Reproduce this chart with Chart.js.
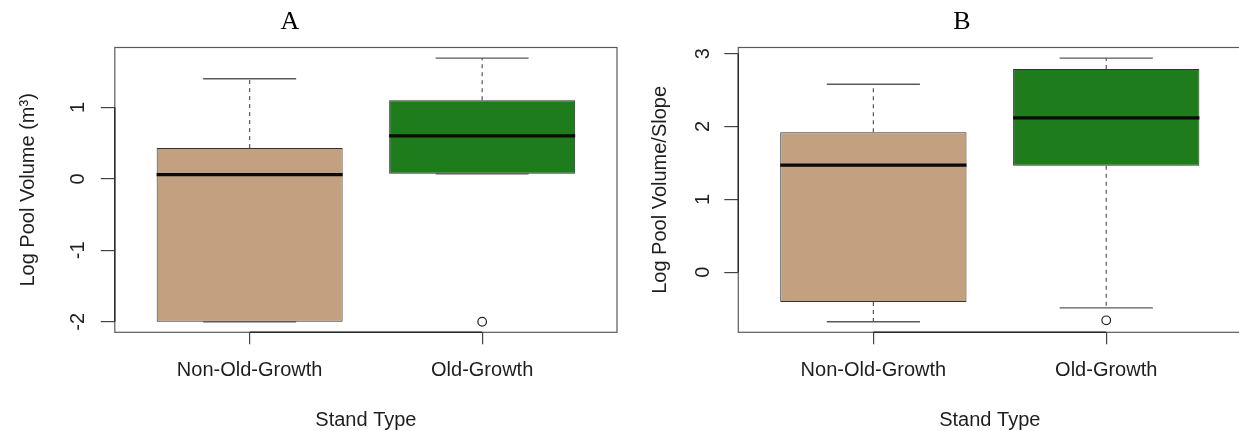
<!DOCTYPE html>
<html>
<head>
<meta charset="utf-8">
<script src="https://cdn.jsdelivr.net/npm/chart.js@4.4.0/dist/chart.umd.min.js"></script>
<style>
  html, body { margin: 0; padding: 0; background: #fff; overflow: hidden; width: 1239px; height: 431px; }
  canvas { position: absolute; top: 0; }
  #chartA { left: 0; }
  #chartB { left: 620px; }
</style>
</head>
<body>
<canvas id="chartA" width="620" height="431"></canvas>
<canvas id="chartB" width="624" height="431"></canvas>
<script>
// Stand types on the x axis
const standTypes = ['Non-Old-Growth', 'Old-Growth'];

// A: log pool volume (m³) five-number summaries per stand type
const volLower  = [-2.00, 0.07];
const volQ1     = [-2.00, 0.07];
const volMedian = [0.06, 0.60];
const volQ3     = [0.43, 1.10];
const volUpper  = [1.40, 1.69];
const volOutliers = [[], [-2.00]];
const volTicks = [-2, -1, 0, 1];

// B: log pool volume / slope
const slopeLower  = [-0.68, -0.49];
const slopeQ1     = [-0.41, 1.46];
const slopeMedian = [1.47, 2.12];
const slopeQ3     = [1.92, 2.79];
const slopeUpper  = [2.58, 2.94];
const slopeOutliers = [[], [-0.66]];
const slopeTicks = [0, 1, 2, 3];

const boxColors = ['#c3a080', '#1f7c1d'];
const SANS = "'Liberation Sans', Arial, sans-serif";
const SERIF = "'Liberation Serif', 'Times New Roman', serif";

// axis range padded by 4% on each side, as in base R plots
function paddedRange(lo, hi) {
  const pad = (hi - lo) * 0.04;
  return [lo - pad, hi + pad];
}

// panel letter above each plot
const panelLetter = {
  id: 'panelLetter',
  afterDraw(chart, args, opts) {
    const ctx = chart.ctx;
    ctx.save();
    ctx.font = opts.size + 'px ' + SERIF;
    ctx.fillStyle = '#000';
    ctx.textAlign = 'center';
    ctx.textBaseline = 'middle';
    ctx.fillText(opts.text, opts.x, opts.y);
    ctx.restore();
  }
};

// frame around the plot region plus axis lines spanning the ticks
const plotFrame = {
  id: 'plotFrame',
  afterDatasetsDraw(chart) {
    const {ctx, chartArea: a, scales} = chart;
    ctx.save();
    ctx.strokeStyle = '#5a5a5a';
    ctx.lineWidth = 1.2;
    ctx.strokeRect(a.left, a.top, a.right - a.left, a.bottom - a.top);
    ctx.strokeStyle = '#2a2a2a';
    ctx.lineWidth = 1.4;
    const xt = scales.x.ticks, yt = scales.y.ticks;
    ctx.beginPath();
    ctx.moveTo(scales.x.getPixelForValue(xt[0].value), a.bottom);
    ctx.lineTo(scales.x.getPixelForValue(xt[xt.length - 1].value), a.bottom);
    ctx.moveTo(a.left, scales.y.getPixelForValue(yt[0].value));
    ctx.lineTo(a.left, scales.y.getPixelForValue(yt[yt.length - 1].value));
    ctx.stroke();
    ctx.restore();
  }
};

function boxplot(canvasId, s) {
  const n = s.categories.length;
  const boxes = [], medians = [], whiskers = [], caps = [], outliers = [];
  s.categories.forEach((c, i) => {
    const x = i + 1;
    boxes.push({x, y: [s.q1[i], s.q3[i]]});
    medians.push({x: x - 0.4, y: s.median[i]}, {x: x + 0.4, y: s.median[i]}, {x, y: null});
    if (s.upper[i] > s.q3[i]) whiskers.push({x, y: s.q3[i]}, {x, y: s.upper[i]}, {x, y: null});
    if (s.lower[i] < s.q1[i]) whiskers.push({x, y: s.q1[i]}, {x, y: s.lower[i]}, {x, y: null});
    caps.push({x: x - 0.2, y: s.upper[i]}, {x: x + 0.2, y: s.upper[i]}, {x, y: null});
    caps.push({x: x - 0.2, y: s.lower[i]}, {x: x + 0.2, y: s.lower[i]}, {x, y: null});
    s.outliers[i].forEach(v => outliers.push({x, y: v}));
  });

  const allValues = [].concat(s.lower, s.upper, s.q1, s.q3, ...s.outliers);
  const [yMin, yMax] = paddedRange(Math.min(...allValues), Math.max(...allValues));
  const [xMin, xMax] = paddedRange(0.5, n + 0.5);

  const lineBase = {type: 'line', pointRadius: 0, spanGaps: false, fill: false, tension: 0};

  return new Chart(document.getElementById(canvasId), {
    type: 'bar',
    data: {
      datasets: [
        {
          data: boxes,
          backgroundColor: boxColors,
          borderColor: '#333',
          borderWidth: 1,
          borderSkipped: false,
          barPercentage: 0.8,
          categoryPercentage: 1,
          order: 5
        },
        Object.assign({}, lineBase, {data: whiskers, borderColor: '#555', borderWidth: 1.2, borderDash: [4, 4], order: 4}),
        Object.assign({}, lineBase, {data: caps, borderColor: '#5a5a5a', borderWidth: 1.3, order: 3}),
        Object.assign({}, lineBase, {data: medians, borderColor: '#0a0a0a', borderWidth: 3.2, borderCapStyle: 'butt', order: 1}),
        {
          type: 'line',
          data: outliers,
          showLine: false,
          pointRadius: 4.3,
          pointBackgroundColor: '#fff',
          pointBorderColor: '#222',
          pointBorderWidth: 1.2,
          order: 0
        }
      ]
    },
    options: {
      responsive: false,
      animation: false,
      events: [],
      layout: {autoPadding: false, padding: {top: 47.5, right: s.padRight, left: 0, bottom: 0}},
      plugins: {
        legend: {display: false},
        tooltip: {enabled: false},
        panelLetter: {text: s.letter, x: s.letterX, y: 22, size: 26}
      },
      scales: {
        x: {
          type: 'linear',
          min: xMin,
          max: xMax,
          offset: false,
          afterBuildTicks: sc => { sc.ticks = s.categories.map((c, i) => ({value: i + 1})); },
          afterFit: sc => { sc.height = 98.7; },
          grid: {drawOnChartArea: false, drawTicks: true, tickLength: 12, color: '#444', lineWidth: 1.2, offset: false},
          border: {display: false},
          ticks: {
            padding: 14.7,
            maxRotation: 0,
            autoSkip: false,
            color: '#1e1e1e',
            font: {family: SANS, size: 20, lineHeight: 1.1},
            callback: v => s.categories[Math.round(v) - 1]
          },
          title: {
            display: true,
            text: 'Stand Type',
            color: '#1e1e1e',
            font: {family: SANS, size: 20, lineHeight: 1.1},
            padding: {top: 0, bottom: 0}
          }
        },
        y: {
          type: 'linear',
          min: yMin,
          max: yMax,
          afterBuildTicks: sc => { sc.ticks = s.ticks.map(v => ({value: v})); },
          afterFit: sc => { sc.width = s.axisWidth; },
          grid: {drawOnChartArea: false, drawTicks: true, tickLength: 14, color: '#444', lineWidth: 1.2},
          border: {display: false},
          ticks: {
            minRotation: 90,
            maxRotation: 90,
            crossAlign: 'center',
            padding: s.tickPad,
            autoSkip: false,
            color: '#1e1e1e',
            font: {family: SANS, size: 20, lineHeight: 1.1},
            callback: v => String(v)
          },
          title: {
            display: true,
            text: s.yTitle,
            color: '#1e1e1e',
            font: {family: SANS, size: 20, lineHeight: 1.1},
            padding: {top: s.titlePad, bottom: 0}
          }
        }
      }
    },
    plugins: [panelLetter, plotFrame]
  });
}

boxplot('chartA', {
  categories: standTypes,
  lower: volLower, q1: volQ1, median: volMedian, q3: volQ3, upper: volUpper,
  outliers: volOutliers, ticks: volTicks,
  yTitle: 'Log Pool Volume (m³)',
  letter: 'A', letterX: 290,
  axisWidth: 114.8, padRight: 3, tickPad: 13.6, titlePad: 17
});

boxplot('chartB', {
  categories: standTypes,
  lower: slopeLower, q1: slopeQ1, median: slopeMedian, q3: slopeQ3, upper: slopeUpper,
  outliers: slopeOutliers, ticks: slopeTicks,
  yTitle: 'Log Pool Volume/Slope',
  letter: 'B', letterX: 342,
  axisWidth: 118.3, padRight: 2.7, tickPad: 15.7, titlePad: 29
});
</script>
</body>
</html>
